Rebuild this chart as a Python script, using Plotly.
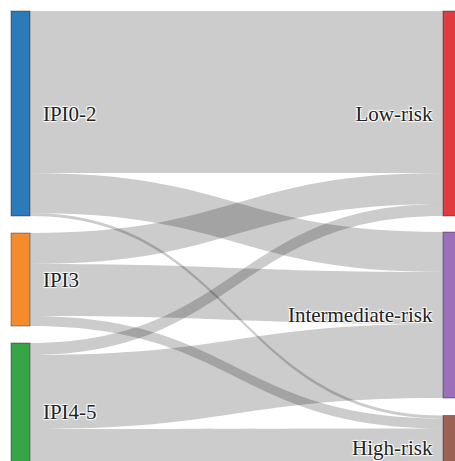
import plotly.graph_objects as go

node_labels = ["\u00a0\u2009IPI0-2", "\u00a0\u2009IPI3", "\u00a0\u2009IPI4-5",
               "Low-risk\u00a0\u200a", "Intermediate-risk\u00a0\u200a", "High-risk\u00a0\u200a"]
node_colors = ["#2b7bba", "#f68b2c", "#35a546", "#e03c40", "#9b6fba", "#9b6153"]

link_source = [0, 0, 0, 1, 1, 1, 2, 2, 2]
link_target = [3, 4, 5, 3, 4, 5, 3, 4, 5]
link_value = [162, 40, 3, 31, 52, 10, 12, 74, 52]

node_x = [0.04505, 0.04505, 0.04505, 0.9945, 0.9945, 0.9945]
node_y = [0.2278, 0.5967, 0.8911, 0.2278, 0.6756, 0.9711]

fig = go.Figure(go.Sankey(
    arrangement="fixed",
    node=dict(
        label=node_labels,
        color=node_colors,
        x=node_x,
        y=node_y,
        pad=7,
        thickness=19,
        line=dict(color="rgba(0,0,0,0.35)", width=1),
    ),
    link=dict(
        source=link_source,
        target=link_target,
        value=link_value,
        color="rgba(0,0,0,0.2)",
    ),
    textfont=dict(family="Liberation Serif", size=21, color="#222222"),
))

fig.update_layout(
    width=455,
    height=461,
    margin=dict(l=0, r=0, t=11, b=0),
    paper_bgcolor="white",
    font=dict(family="Liberation Serif", size=21, color="#222222"),
)

fig.write_html("out.html", config={"displayModeBar": False},
               post_script="document.body.style.margin='0';")
